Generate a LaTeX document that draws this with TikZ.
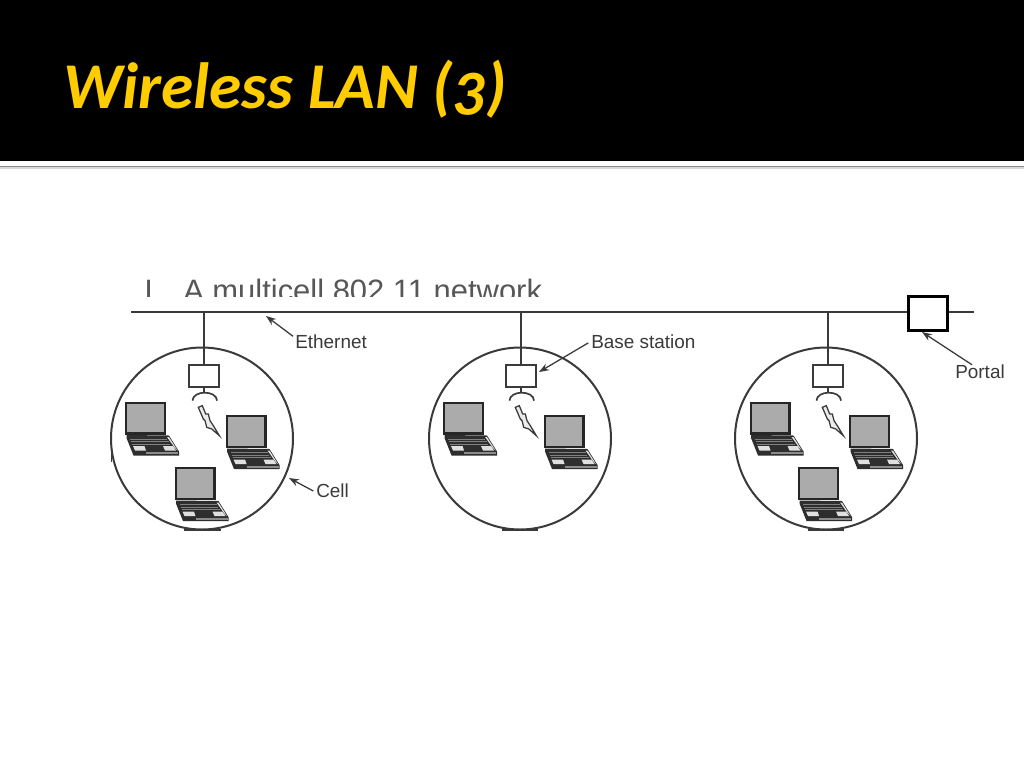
\documentclass[tikz,border=0pt]{standalone}
\usepackage{fontspec}
\usetikzlibrary{arrows.meta}
\setmainfont{Liberation Sans}
\newfontfamily\titlefont[Numbers=OldStyle]{Carlito}
\definecolor{titleyellow}{HTML}{FFCC00}
\definecolor{ink}{HTML}{3A3A3A}
\definecolor{screengray}{HTML}{ABABAB}
\tikzset{
  x=0.75pt,y=-0.75pt,
  wire/.style={draw=ink,line width=1.5pt},
  cellring/.style={circle,draw=ink,line width=1.5pt,minimum size=136.5pt,inner sep=0pt},
  basebox/.style={rectangle,draw=ink,line width=0.95pt,fill=white,minimum width=22.5pt,minimum height=16.5pt,inner sep=0pt},
  portalbox/.style={rectangle,draw=black,line width=1.8pt,fill=white,minimum width=29pt,minimum height=25.5pt,inner sep=0pt},
  lbl/.style={inner sep=0pt,text=ink,font=\fontsize{14.2}{16}\selectfont,anchor=west},
  pointer/.style={draw=ink,line width=0.95pt,-{Stealth[length=7.5pt,width=5.5pt]}},
  laptop/.pic={
    \fill[black!85] (0,0) rectangle (41,33);
    \fill[screengray] (2.2,2) rectangle (38.8,30.5);
    \fill[black!82] (1.7,33.5) -- (44,34) -- (54,50) -- (54,54) -- (8.5,54) -- (1.7,37) -- cycle;
    \draw[black!50,line width=0.35pt] (5,37.5) -- (42,37.5) (6,40) -- (43.5,40) (7,42.5) -- (45,42.5);
    \fill[white!88!black] (44,35.5) -- (52.5,49) -- (49.5,46) -- (42,35.5) -- cycle;
    \fill[white!88!black] (8,44.5) -- (19.5,44.5) -- (21,49) -- (10,49) -- cycle;
    \fill[white!88!black] (38,44.5) -- (48,44.5) -- (51,49) -- (40,49) -- cycle;
    \fill[black!45] (21,50.5) -- (53,50.5) -- (53,52.5) -- (21,52.5) -- cycle;
  },
  radio/.pic={
    \draw[ink,line width=1pt] (0,0) -- (0,5);
    \draw[ink,line width=1.25pt] (-11.5,13) .. controls (-11.5,8) and (-5.5,5) .. (0.7,5) .. controls (7,5) and (13,8) .. (13,13);
    \filldraw[draw=ink,fill=black!8,line width=0.95pt] (-5.7,19.7) -- (-1.7,18) -- (1.7,26.3) -- (4.3,26.3) -- (6,33) -- (9.3,38) -- (15.3,48) -- (7.7,41.3) -- (2.7,39.7) -- (1,33) -- (-0.7,31.3) -- cycle;
  }
}
\begin{document}
\begin{tikzpicture}
\useasboundingbox (0,0) rectangle (1024,768);
\fill[white] (0,0) rectangle (1024,768);
% header band
\fill[black] (0,0) rectangle (1024,160.5);
\fill[black!45] (0,165.5) rectangle (1024,167);
\fill[black!15] (0,167) rectangle (1024,168.5);
\node[anchor=base west,inner sep=0pt,text=titleyellow,font=\titlefont\bfseries\itshape\fontsize{49}{54}\selectfont] (title) at (63,108) {Wireless LAN (3)};
% clipped caption
\begin{scope}
  \clip (130,270) rectangle (560,296);
  \node[anchor=base west,inner sep=0pt,text=ink!85,font=\fontsize{23.2}{26}\selectfont] (caption) at (183,301) {A multicell 802.11 network};
  \node[anchor=base west,inner sep=0pt,text=ink!85,font=\fontsize{23.2}{26}\selectfont] (captionbar) at (144,301) {I};
\end{scope}
% cells
\node[cellring] (cell1) at (202,438.5) {};
\node[cellring] (cell2) at (520,438.5) {};
\node[cellring] (cell3) at (826,438.5) {};
\draw[ink,line width=1.8pt] (184,530) -- (221,530) (502,530) -- (538,530) (808,530) -- (844,530);
\draw[ink,line width=1.4pt] (111.5,425) -- (111.5,462);
% bus, portal
\coordinate (busL) at (131,311.5);
\coordinate (busR) at (974,311.5);
\node[portalbox] (portal) at (928,313.5) {};
\draw[wire] (busL) -- (portal.west |- busL);
\draw[wire] (portal.east |- busR) -- (busR);
% base stations
\node[basebox] (box1) at (204,376) {};
\node[basebox] (box2) at (521,376) {};
\node[basebox] (box3) at (828,376) {};
\draw[wire] (box1.north |- busL) -- (box1.north);
\draw[wire] (box2.north |- busL) -- (box2.north);
\draw[wire] (box3.north |- busL) -- (box3.north);
\pic at (box1.south) {radio};
\pic at (box2.south) {radio};
\pic at (box3.south) {radio};
% laptops
\pic at (125,401.5) {laptop};
\pic at (225.5,415) {laptop};
\pic at (174.5,467) {laptop};
\pic at (443,401.5) {laptop};
\pic at (543.5,415) {laptop};
\pic at (749.5,401.5) {laptop};
\pic at (849,415) {laptop};
\pic at (798,467) {laptop};
% labels
\node[lbl] (lblEth) at (295,341.5) {Ethernet};
\node[lbl] (lblBase) at (591,341.5) {Base station};
\node[lbl] (lblCell) at (316,491) {Cell};
\node[lbl] (lblPortal) at (955,372) {Portal};
\coordinate (ethTip) at (266,316);
\coordinate (baseTip) at (539,372);
\coordinate (cellTip) at (289,478);
\coordinate (portalTip) at (922,332);
\draw[pointer] ([xshift=-1.5pt,yshift=-1.5pt]lblEth.north west) -- (ethTip);
\draw[pointer] ([xshift=-2pt,yshift=-1pt]lblBase.west) -- (baseTip);
\draw[pointer] ([xshift=-2pt]lblCell.west) -- (cellTip);
\draw[pointer] ([xshift=-6pt]lblPortal.north) -- (portalTip);
\end{tikzpicture}
\end{document}
